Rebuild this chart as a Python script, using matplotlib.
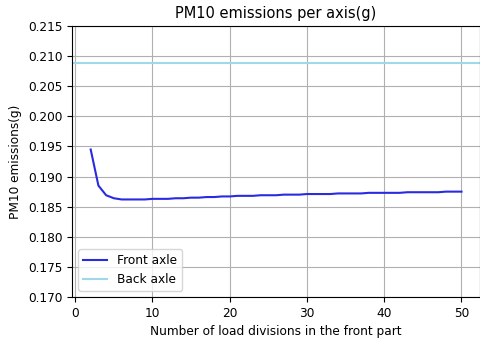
import numpy as np
import matplotlib
matplotlib.use('Agg')
import matplotlib.pyplot as plt

plt.rcParams['font.size'] = 8.75

# number of load divisions in the front part
divisions = list(range(2, 51))

# PM10 emissions (g) for each axle
front_axle = [0.1945, 0.1885, 0.1869, 0.1864, 0.1862, 0.1862, 0.1862, 0.1862, 0.1863,
              0.1863, 0.1863, 0.1864, 0.1864, 0.1865, 0.1865, 0.1866, 0.1866, 0.1867,
              0.1867, 0.1868, 0.1868, 0.1868, 0.1869, 0.1869, 0.1869, 0.1870, 0.1870,
              0.1870, 0.1871, 0.1871, 0.1871, 0.1871, 0.1872, 0.1872, 0.1872, 0.1872,
              0.1873, 0.1873, 0.1873, 0.1873, 0.1873, 0.1874, 0.1874, 0.1874, 0.1874,
              0.1874, 0.1875, 0.1875, 0.1875]
back_axle = 0.2088

fig = plt.figure(figsize=(4.81, 3.39), dpi=100)
plt.subplots_adjust(left=0.15, right=0.998, top=0.923, bottom=0.124)

plt.plot(divisions, front_axle, color='#2a2ae0', label='Front axle')
plt.axhline(back_axle, color='#9fd8e6', label='Back axle')

plt.ylim(0.170, 0.215)
plt.yticks(np.arange(0.170, 0.2151, 0.005))
plt.xticks([0, 10, 20, 30, 40, 50])
plt.grid(True)
plt.title('PM10 emissions per axis(g)', fontsize=10.5)
plt.xlabel('Number of load divisions in the front part')
plt.ylabel('PM10 emissions(g)')
plt.legend(loc='lower left')

plt.savefig('out.png', dpi=100)
